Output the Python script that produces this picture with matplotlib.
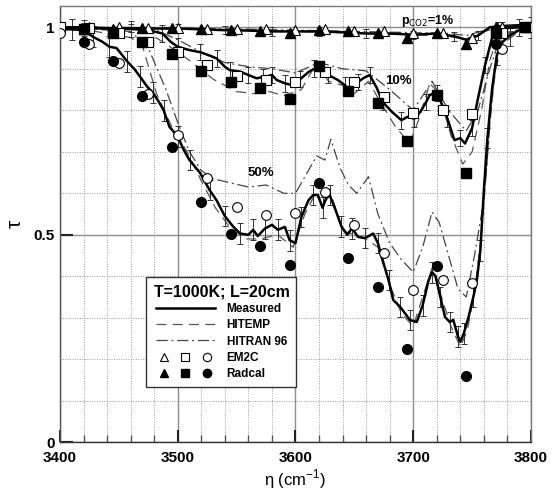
import numpy as np
import matplotlib.pyplot as plt
from matplotlib.lines import Line2D
from matplotlib.legend_handler import HandlerTuple
from matplotlib.ticker import MultipleLocator

plt.rcParams['font.family'] = ['Liberation Sans', 'DejaVu Sans']

# ---- measured transmissivity (solid line with error bars) ----
meas1_x = [3400, 3420, 3440, 3460, 3480, 3500, 3520, 3540, 3560, 3580, 3600, 3620, 3640,
           3660, 3680, 3700, 3720, 3735, 3745, 3755, 3765, 3775, 3790, 3800]
meas1_t = [1.0, 1.0, 0.998, 0.998, 0.997, 0.997, 0.995, 0.993, 0.992, 0.99, 0.99, 0.99, 0.988,
           0.985, 0.985, 0.982, 0.985, 0.978, 0.97, 0.98, 1.0, 1.003, 1.005, 1.0]

meas10_x = [3400, 3420, 3440, 3460, 3475, 3487, 3494, 3500, 3510, 3519, 3526, 3533, 3540, 3544,
            3553, 3560, 3567, 3572, 3576, 3580, 3584, 3591, 3598, 3604, 3611, 3616, 3621, 3628,
            3636, 3642, 3646, 3653, 3658, 3663, 3669, 3674, 3682, 3690, 3695, 3701, 3706, 3711,
            3714, 3720, 3725, 3729, 3735, 3740, 3744, 3750, 3755, 3761, 3767, 3772, 3780, 3790, 3800]
meas10_t = [1.0, 0.998, 0.997, 0.996, 0.993, 0.985, 0.965, 0.953, 0.945, 0.94, 0.933, 0.925, 0.905,
            0.897, 0.893, 0.885, 0.877, 0.88, 0.882, 0.885, 0.873, 0.865, 0.86, 0.875, 0.892, 0.9,
            0.897, 0.885, 0.873, 0.86, 0.849, 0.868, 0.878, 0.885, 0.854, 0.82, 0.796, 0.776, 0.784,
            0.78, 0.796, 0.82, 0.837, 0.842, 0.81, 0.78, 0.728, 0.733, 0.72, 0.757, 0.829, 0.909,
            0.975, 0.993, 0.998, 1.0, 0.998]

meas50_x = [3400, 3410, 3420, 3428, 3436, 3442, 3448, 3457, 3463, 3468, 3474, 3479, 3484, 3488,
            3493, 3500, 3505, 3510, 3519, 3527, 3533, 3540, 3547, 3553, 3560, 3564, 3568, 3574,
            3580, 3585, 3591, 3595, 3600, 3605, 3611, 3615, 3619, 3623, 3626, 3629, 3634, 3639,
            3644, 3648, 3653, 3659, 3666, 3670, 3674, 3679, 3683, 3689, 3693, 3697, 3703, 3708,
            3713, 3716, 3719, 3723, 3727, 3731, 3734, 3738, 3740, 3743, 3747, 3751, 3754, 3757,
            3760, 3763, 3767, 3771, 3776, 3782, 3791, 3800]
meas50_t = [0.995, 0.995, 0.993, 0.977, 0.965, 0.953, 0.95, 0.918, 0.9, 0.881, 0.857, 0.842, 0.82,
            0.8, 0.76, 0.737, 0.705, 0.68, 0.649, 0.608, 0.583, 0.545, 0.52, 0.503, 0.5, 0.512,
            0.497, 0.515, 0.524, 0.512, 0.519, 0.487, 0.48, 0.543, 0.583, 0.596, 0.596, 0.565,
            0.588, 0.596, 0.56, 0.52, 0.5, 0.516, 0.495, 0.492, 0.503, 0.48, 0.439, 0.391, 0.343,
            0.326, 0.311, 0.295, 0.29, 0.33, 0.39, 0.41, 0.4, 0.35, 0.302, 0.29, 0.295, 0.255,
            0.242, 0.263, 0.302, 0.35, 0.39, 0.463, 0.608, 0.733, 0.853, 0.933, 0.965, 0.98,
            0.995, 1.0]

meas_err = {'1': 0.01, '10': 0.02, '50': 0.025}

# ---- HITEMP (dashed) ----
hitemp1_x = [3400, 3450, 3500, 3550, 3600, 3650, 3700, 3730, 3745, 3760, 3775, 3800]
hitemp1_t = [1.0, 0.998, 0.996, 0.993, 0.99, 0.986, 0.982, 0.978, 0.972, 0.99, 1.0, 1.0]

hitemp10_x = [3400, 3470, 3490, 3510, 3530, 3550, 3565, 3578, 3590, 3605, 3618, 3628, 3640, 3650,
              3662, 3672, 3685, 3697, 3705, 3714, 3722, 3732, 3742, 3750, 3758, 3765, 3772, 3800]
hitemp10_t = [1.0, 0.995, 0.96, 0.92, 0.875, 0.845, 0.84, 0.845, 0.835, 0.85, 0.915, 0.87, 0.86,
              0.84, 0.87, 0.82, 0.76, 0.72, 0.78, 0.865, 0.84, 0.74, 0.67, 0.7, 0.8, 0.92, 0.98, 1.0]

hitemp50_x = [3400, 3430, 3460, 3470, 3482, 3495, 3508, 3520, 3532, 3545, 3558, 3570, 3585, 3598,
              3608, 3617, 3623, 3630, 3640, 3650, 3660, 3670, 3680, 3690, 3700, 3708, 3716, 3724,
              3732, 3740, 3746, 3752, 3758, 3762, 3766, 3770, 3776, 3790, 3800]
hitemp50_t = [1.0, 0.99, 0.975, 0.955, 0.84, 0.76, 0.7, 0.63, 0.565, 0.515, 0.49, 0.49, 0.5, 0.47,
              0.55, 0.6, 0.57, 0.6, 0.51, 0.5, 0.49, 0.47, 0.38, 0.31, 0.28, 0.35, 0.42, 0.35,
              0.28, 0.23, 0.27, 0.36, 0.5, 0.65, 0.8, 0.9, 0.96, 0.99, 1.0]

# ---- HITRAN 96 (dash-dot) ----
hitran1_x = [3400, 3450, 3500, 3550, 3600, 3650, 3700, 3730, 3745, 3760, 3775, 3800]
hitran1_t = [1.0, 0.999, 0.998, 0.996, 0.993, 0.99, 0.987, 0.985, 0.98, 0.992, 1.0, 1.0]

hitran10_x = [3400, 3480, 3500, 3520, 3540, 3560, 3580, 3600, 3620, 3640, 3660, 3680, 3700, 3716,
              3730, 3745, 3755, 3765, 3775, 3800]
hitran10_t = [1.0, 0.995, 0.97, 0.94, 0.915, 0.905, 0.9, 0.89, 0.915, 0.9, 0.895, 0.85, 0.8, 0.87,
              0.8, 0.75, 0.8, 0.9, 0.985, 1.0]

hitran50_x = [3400, 3460, 3475, 3490, 3500, 3510, 3520, 3530, 3545, 3560, 3575, 3590, 3600, 3610,
              3618, 3625, 3630, 3638, 3645, 3652, 3662, 3670, 3680, 3690, 3700, 3708, 3716, 3722,
              3730, 3738, 3745, 3752, 3758, 3762, 3766, 3770, 3775, 3785, 3800]
hitran50_t = [1.0, 0.99, 0.95, 0.85, 0.77, 0.7, 0.655, 0.635, 0.625, 0.615, 0.62, 0.6, 0.6, 0.65,
              0.69, 0.68, 0.73, 0.66, 0.62, 0.6, 0.64, 0.55, 0.48, 0.44, 0.41, 0.47, 0.555, 0.53,
              0.45, 0.37, 0.35, 0.45, 0.55, 0.65, 0.8, 0.92, 0.97, 0.99, 1.0]

# ---- EM2C (open markers) and Radcal (filled markers) ----
em2c_x = [3400, 3425, 3450, 3475, 3500, 3525, 3550, 3575, 3600, 3625, 3650, 3675, 3700, 3725,
          3750, 3775, 3800]
em2c1_t = [1.0, 1.0, 1.0, 0.999, 0.998, 0.997, 0.996, 0.995, 0.993, 0.995, 0.99, 0.99, 0.985,
           0.985, 0.975, 1.0, 1.0]
em2c10_t = [1.0, 0.998, 0.985, 0.965, 0.94, 0.91, 0.882, 0.873, 0.868, 0.893, 0.868, 0.833, 0.793,
            0.8, 0.79, 0.985, 1.0]
em2c50_t = [0.985, 0.96, 0.915, 0.84, 0.74, 0.637, 0.567, 0.548, 0.552, 0.602, 0.523, 0.455,
            0.367, 0.39, 0.384, 0.948, 1.0]

radcal_x = [3420, 3445, 3470, 3495, 3520, 3545, 3570, 3595, 3620, 3645, 3670, 3695, 3720, 3745,
            3770, 3795]
radcal1_t = [0.997, 0.997, 0.998, 0.998, 0.995, 0.993, 0.99, 0.987, 0.993, 0.99, 0.985, 0.975,
             0.985, 0.96, 1.0, 1.0]
radcal10_t = [0.995, 0.985, 0.965, 0.935, 0.895, 0.867, 0.853, 0.828, 0.907, 0.847, 0.817, 0.726,
              0.838, 0.65, 0.985, 1.0]
radcal50_t = [0.965, 0.918, 0.835, 0.712, 0.58, 0.503, 0.474, 0.427, 0.624, 0.444, 0.374, 0.224,
              0.425, 0.16, 0.96, 1.0]

fig = plt.figure(figsize=(5.57, 4.9), dpi=100)
ax = fig.add_axes([0.1077, 0.0973, 0.8456, 0.8911])

grid_col = '#8c8c8c'
ax.set_xlim(3400, 3800)
ax.set_ylim(0, 1.052)
ax.xaxis.set_major_locator(MultipleLocator(100))
ax.xaxis.set_minor_locator(MultipleLocator(20))
ax.yaxis.set_major_locator(MultipleLocator(0.5))
ax.yaxis.set_minor_locator(MultipleLocator(0.1))
ax.grid(which='major', color=grid_col, lw=1.0, ls='-')
ax.grid(which='minor', color='#9a9a9a', lw=0.7, ls=(0, (1, 1.5)))
ax.set_axisbelow(True)
for s in ax.spines.values():
    s.set_color('#7a7a7a')
    s.set_linewidth(1.0)
ax.spines['bottom'].set_color('#333333')
ax.spines['left'].set_color('#555555')
ax.tick_params(which='major', direction='in', length=9, width=1.5, color='#222222',
               top=False, right=False, labelsize=11)
ax.tick_params(axis='x', which='major', pad=6)
ax.tick_params(axis='y', which='major', pad=4)
ax.tick_params(which='minor', direction='in', length=5, width=1.0, color='#555555',
               top=False, right=False, left=False)
ax.set_yticks([0, 0.5, 1.0])
ax.set_yticklabels(['0', '0.5', '1'])
for lab in ax.get_xticklabels() + ax.get_yticklabels():
    lab.set_fontweight('bold')

dash_style = dict(color='#555555', lw=0.9, ls=(0, (8, 5)))
dashdot_style = dict(color='#444444', lw=0.9, ls=(0, (9, 3, 1.5, 3)))

for hx, ht in [(hitemp1_x, hitemp1_t), (hitemp10_x, hitemp10_t), (hitemp50_x, hitemp50_t)]:
    ax.plot(hx, ht, **dash_style, zorder=3)
for hx, ht in [(hitran1_x, hitran1_t), (hitran10_x, hitran10_t), (hitran50_x, hitran50_t)]:
    ax.plot(hx, ht, **dashdot_style, zorder=3)

for key, mx, mt in [('1', meas1_x, meas1_t), ('10', meas10_x, meas10_t), ('50', meas50_x, meas50_t)]:
    ax.errorbar(mx[1::2], mt[1::2], yerr=meas_err[key], fmt='none', ecolor='#333333',
                elinewidth=0.7, capsize=2.5, capthick=0.7, zorder=4)
    ax.plot(mx, mt, color='black', lw=1.8, zorder=5)

mk_open = dict(ls='none', mfc='white', mec='black', mew=0.8, ms=7, zorder=6)
mk_fill = dict(ls='none', mfc='black', mec='black', ms=7, zorder=7)
for mk, t in [('^', em2c1_t), ('s', em2c10_t), ('o', em2c50_t)]:
    ax.plot(em2c_x, t, marker=mk, **mk_open)
for mk, t in [('^', radcal1_t), ('s', radcal10_t), ('o', radcal50_t)]:
    ax.plot(radcal_x, t, marker=mk, **mk_fill)

ax.text(3690, 1.008, r'p$_{\mathrm{CO2}}$=1%', fontsize=9, fontweight='bold',
        ha='left', va='baseline')
ax.text(3676, 0.87, '10%', fontsize=9.5, fontweight='bold', ha='left', va='center')
ax.text(3559, 0.648, '50%', fontsize=9.5, fontweight='bold', ha='left', va='center')

ax.set_xlabel(r'$\mathregular{\eta}$ (cm$^{\mathregular{-1}}$)', fontsize=12, labelpad=2)
ax.set_ylabel('τ', fontsize=15, labelpad=6)

h_meas = Line2D([], [], color='black', lw=1.8)
h_hitemp = Line2D([], [], **dash_style)
h_hitran = Line2D([], [], **dashdot_style)
h_em2c = tuple(Line2D([], [], marker=m, ls='none', mfc='white', mec='black', mew=0.8, ms=6)
               for m in ['^', 's', 'o'])
h_radcal = tuple(Line2D([], [], marker=m, ls='none', mfc='black', mec='black', ms=6)
                 for m in ['^', 's', 'o'])
leg = ax.legend([h_meas, h_hitemp, h_hitran, h_em2c, h_radcal],
                ['Measured', 'HITEMP', 'HITRAN 96', 'EM2C', 'Radcal'],
                handler_map={tuple: HandlerTuple(ndivide=None, pad=0.4)},
                title='T=1000K; L=20cm', loc='upper left', bbox_to_anchor=(0.171, 0.392),
                fancybox=False, framealpha=1, edgecolor='#333333', handlelength=5.0,
                handletextpad=1.0, labelspacing=0.35, borderpad=0.6,
                prop={'weight': 'bold', 'size': 8.5},
                title_fontproperties={'weight': 'bold', 'size': 11.5})
leg.get_frame().set_linewidth(1.0)
leg.set_zorder(10)

fig.savefig('out.png', dpi=100)
